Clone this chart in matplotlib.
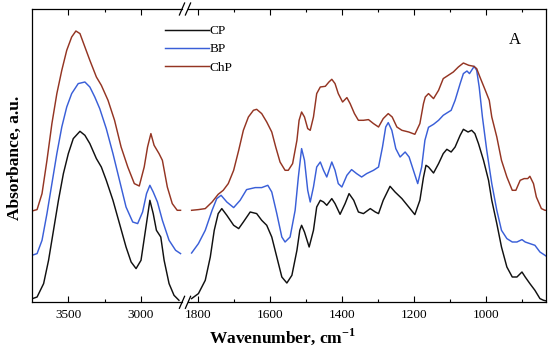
import matplotlib
matplotlib.use("Agg")
import matplotlib.pyplot as plt
from matplotlib.lines import Line2D

# ---------------- data ----------------
# left segment (O-H / C-H stretching region)
cp_left_wn = [3750, 3715, 3670, 3636, 3602, 3568, 3534, 3500, 3466, 3420, 3386, 3352, 3307, 3273,
              3239, 3193, 3148, 3103, 3068, 3034, 3000, 2966, 2939, 2916, 2894, 2864, 2841, 2807,
              2773, 2739]
cp_left_a = [3.5, 5.3, 18.7, 42, 72, 102, 128.7, 148.7, 163.7, 171, 167, 158.7, 143.7, 135.3,
             122, 102, 78.7, 55.3, 40.3, 33.7, 42, 75.3, 102, 88.7, 72, 65.3, 42, 18.7, 7, 2]

bp_left_wn = [3750, 3715, 3681, 3647, 3613, 3579, 3545, 3511, 3477, 3432, 3386, 3352, 3318, 3284,
              3239, 3193, 3148, 3103, 3057, 3023, 2989, 2962, 2939, 2916, 2887, 2853, 2807, 2762,
              2728]
bp_left_a = [47, 48.7, 62, 88.7, 118.7, 148.7, 175.3, 195.3, 208.7, 218.7, 220.3, 215.3, 205.3,
             193.7, 173.7, 148.7, 122, 95.3, 80.3, 78.7, 90.3, 108.7, 117, 110.3, 100.3, 82, 62,
             52, 48.7]

chp_left_wn = [3750, 3715, 3681, 3647, 3613, 3579, 3545, 3511, 3477, 3448, 3420, 3386, 3352, 3307,
               3273, 3227, 3182, 3137, 3091, 3046, 3012, 2978, 2955, 2932, 2910, 2876, 2853, 2819,
               2785, 2751, 2728]
chp_left_a = [91.3, 92.7, 108.7, 142, 178.7, 208.7, 232, 252, 265.3, 271.3, 268.7, 255.3, 242,
              225.3, 217, 202, 182, 155.3, 135.3, 118.7, 116.3, 135.3, 155.3, 168.7, 157, 148.7,
              142, 115.3, 98.7, 92, 92]

# right segment (fingerprint region)
cp_right_wn = [1819, 1800, 1781, 1767, 1756, 1745, 1735, 1721, 1702, 1688, 1675, 1656, 1638, 1624,
               1610, 1596, 1582, 1568, 1554, 1540, 1526, 1518, 1513, 1505, 1492, 1480, 1471, 1461,
               1452, 1443, 1429, 1420, 1406, 1392, 1381, 1368, 1355, 1341, 1322, 1308, 1299, 1286,
               1267, 1253, 1234, 1215, 1198, 1184, 1174, 1167, 1160, 1146, 1132, 1119, 1109, 1097,
               1086, 1072, 1063, 1050, 1040, 1031, 1021, 1007, 993, 984, 970, 957, 942, 927, 914,
               900, 891, 878, 864, 850, 840, 834]
cp_right_a = [3.7, 8.7, 22, 45.3, 72, 88.7, 93.7, 87, 77, 73.7, 80.3, 90.3, 88.7, 82, 77, 65.3,
              45.3, 25.3, 19.3, 27, 52, 72, 77, 70.3, 55.3, 72, 95.3, 102, 100.3, 97, 103.7, 98.7,
              88, 98.7, 108.7, 102, 90.3, 88.7, 93.7, 90.3, 88.7, 102, 116, 110.3, 103.7, 95.3,
              87.7, 102, 125, 137, 135.3, 129.3, 138.7, 148.7, 153, 150.3, 155.3, 167, 173, 170.3,
              172, 168.7, 158.7, 142, 122, 102, 78.7, 55.3, 35.3, 25.3, 25.3, 30.3, 25.3, 18.7,
              12, 3.7, 2, 1.5]

bp_right_wn = [1819, 1800, 1781, 1762, 1749, 1737, 1721, 1702, 1684, 1666, 1642, 1624, 1607, 1596,
               1582, 1568, 1559, 1545, 1531, 1522, 1513, 1505, 1496, 1489, 1480, 1471, 1461, 1452,
               1443, 1429, 1420, 1411, 1401, 1387, 1374, 1360, 1346, 1332, 1313, 1299, 1288, 1279,
               1272, 1262, 1251, 1239, 1225, 1214, 1202, 1190, 1179, 1170, 1160, 1146, 1132, 1119,
               1109, 1097, 1086, 1072, 1063, 1053, 1046, 1037, 1033, 1026, 1019, 1010, 998, 984,
               970, 957, 942, 927, 914, 900, 891, 878, 864, 850, 836, 834]
bp_right_a = [49.3, 58.7, 72, 92, 103.7, 107, 100.3, 94.7, 102, 112.7, 114.7, 114.7, 117, 110.3,
              88.7, 65.3, 60.3, 65.3, 92, 125.3, 153.7, 142, 112, 100.3, 115.3, 135.3, 140.3, 132,
              125.3, 140.3, 132, 118.7, 115.3, 127, 132.7, 128.7, 125.3, 128.7, 132, 135.3, 155.3,
              175.3, 179.7, 172, 153.7, 145.3, 150.3, 145.3, 132, 118.7, 135.3, 162, 175, 178,
              182, 187, 189.3, 192, 202, 218.7, 228.7, 231.3, 228.7, 233.7, 236, 232, 215.3,
              185.3, 152, 118.7, 92, 72, 63.7, 60.3, 60.3, 62.7, 60.3, 58.7, 57, 50.3, 47, 46.5]

chp_right_wn = [1819, 1800, 1781, 1762, 1745, 1731, 1717, 1702, 1688, 1675, 1661, 1647, 1638, 1624,
                1610, 1596, 1585, 1573, 1559, 1550, 1538, 1526, 1520, 1513, 1505, 1496, 1489, 1480,
                1471, 1461, 1447, 1437, 1429, 1420, 1411, 1399, 1387, 1378, 1366, 1355, 1341, 1327,
                1313, 1299, 1286, 1272, 1261, 1248, 1234, 1215, 1198, 1184, 1174, 1169, 1160, 1146,
                1132, 1119, 1105, 1091, 1077, 1063, 1048, 1034, 1026, 1017, 1002, 991, 984, 970,
                957, 942, 927, 917, 905, 894, 884, 878, 868, 860, 846, 836, 834]
chp_right_a = [92, 92.7, 93.7, 100.3, 108, 112, 118.7, 132, 152, 172, 185.3, 192, 193, 188.7,
               180.3, 170.3, 155.3, 140.3, 132, 132, 138.7, 162, 182, 190.3, 185.3, 173.7, 172,
               185.3, 208.7, 215.3, 216, 220.3, 223, 218.7, 208.7, 200.3, 204.7, 198.7, 188.7, 182,
               182, 182.7, 178.7, 175.3, 183.7, 188.7, 185.3, 175.3, 172, 170.3, 168, 178.7, 198.7,
               205.3, 208.7, 203.7, 212, 223.7, 227, 230.3, 235.3, 239.3, 237, 236, 233.7, 225.3,
               212, 202, 185.3, 165.3, 142, 125.3, 112, 112, 122, 123.7, 123.7, 126, 118.7, 105.3,
               93.7, 92, 92]

series_names = ["CP", "BP", "ChP"]
series_colors = ["#111111", "#3a5fd8", "#943523"]

left_ticks = [3500, 3000]
left_minor = [3250]
right_ticks = [1800, 1600, 1400, 1200, 1000]
right_minor = [1700, 1500, 1300, 1100, 900]

# ---------------- figure ----------------
W, H = 550, 353
fig = plt.figure(figsize=(W / 100, H / 100), dpi=100)
plt.rcParams["font.family"] = ["Liberation Serif", "DejaVu Serif"]

x0, xb1, xb2, x1 = 31.7, 182.0, 188.0, 545.7
ytop, ybot = 9.0, 302.3
bottom = (H - ybot) / H
height = (ybot - ytop) / H
axL = fig.add_axes([x0 / W, bottom, (xb1 - x0) / W, height])
axR = fig.add_axes([xb2 / W, bottom, (x1 - xb2) / W, height])

lw = 1.05
left_sets = [(cp_left_wn, cp_left_a), (bp_left_wn, bp_left_a), (chp_left_wn, chp_left_a)]
right_sets = [(cp_right_wn, cp_right_a), (bp_right_wn, bp_right_a), (chp_right_wn, chp_right_a)]
for (wn, a), name, col in zip(left_sets, series_names, series_colors):
    axL.plot(wn, a, color=col, lw=lw, solid_joinstyle="round")
for (wn, a), name, col in zip(right_sets, series_names, series_colors):
    axR.plot(wn, a, color=col, lw=lw, label=name, solid_joinstyle="round")

ymax = ybot - ytop
for ax in (axL, axR):
    ax.set_ylim(0, ymax)
    ax.set_yticks([])
    ax.tick_params(axis="x", which="both", direction="in", top=True, bottom=True,
                   labelsize=9.5, pad=5, width=0.8)
    ax.tick_params(axis="x", which="major", length=4)
    ax.tick_params(axis="x", which="minor", length=2.5)
    for s in ax.spines.values():
        s.set_linewidth(0.9)

axL.set_xlim(3752, 2718)
axL.set_xticks(left_ticks)
axL.set_xticks(left_minor, minor=True)
axL.spines["right"].set_visible(False)

axR.set_xlim(1829, 834)
axR.set_xticks(right_ticks)
axR.set_xticks(right_minor, minor=True)
axR.spines["left"].set_visible(False)

# break marks
def fx(px):
    return px / W

def fy(py):
    return (H - py) / H

for xc in (xb1, xb2):
    for yc in (ytop, ybot):
        fig.add_artist(Line2D([fx(xc - 2.6), fx(xc + 2.6)], [fy(yc + 6), fy(yc - 6)],
                              color="black", lw=0.9, transform=fig.transFigure))

# labels
fig.text(282 / W, fy(337), "Wavenumber, cm$^{\\mathregular{-1}}$", ha="center", va="center",
         fontsize=12.5, fontweight="bold")
fig.text(15 / W, fy(158), "Absorbance, a.u.", ha="center", va="center", rotation=90,
         fontsize=12.5, fontweight="bold")
fig.text(515 / W, fy(40), "A", ha="center", va="center", fontsize=12)

# legend
handles = [Line2D([], [], color=c, lw=lw) for c in series_colors]
leg = fig.legend(handles, series_names, loc="upper left", bbox_to_anchor=(165 / W, fy(25)),
                 frameon=False, fontsize=9.5, handlelength=3.3, handletextpad=0.1,
                 labelspacing=0.45, borderpad=0, borderaxespad=0)

fig.savefig("out.png", dpi=100)
